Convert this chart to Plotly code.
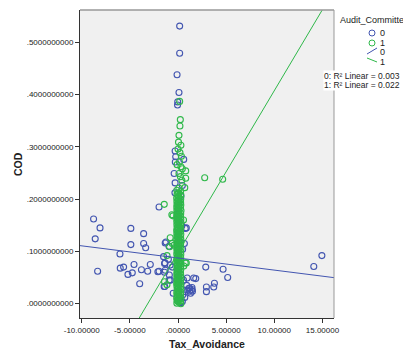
import plotly.graph_objects as go

# ---------------- data ----------------
x_tick_vals = [-10, -5, 0, 5, 10, 15]
x_tick_text = ["-10.00000", "-5.00000", ".00000", "5.00000", "10.00000", "15.00000"]
y_tick_vals = [0.0, 0.1, 0.2, 0.3, 0.4, 0.5]
y_tick_text = [".0000000000", ".1000000000", ".2000000000", ".3000000000", ".4000000000", ".5000000000"]

groups = ["0", "1"]

# Audit_Committee = 0 (blue)
x0 = [0.17, 0.17, -0.10, 0.10, -0.03, -0.05,
      -8.77, -8.10, -8.60, -4.90, -3.57, -4.90, -3.57, -3.36, -1.97, -6.03, -8.35, -6.00, -5.65,
      -4.57, -5.20, -4.75, -3.80, -3.15, -2.88, -1.97, -1.35, -3.98, -1.38, -1.25, -0.94, -0.80,
      0.86, 0.66, 2.88, 4.68, 5.16, 3.78, 3.71, 2.95, 2.95, 1.63, 1.84, 1.20, 1.45, 1.20, 1.50,
      1.00, 1.30, 14.94, 14.10, 0.59, -0.24, -1.40, -1.00, -0.60, -0.90, -0.50, 0.90, 0.70,
      -1.33, -1.40, -2.09, -0.81, -1.44, -0.92, 0.57, 1.10, 0.75, -1.50, -1.33, 0.95, 1.45,
      -0.30, -0.28, -0.40, -0.30, 0.45, -0.32, 0.30, 0.10, 0.05, -0.05, 0.12, 0.40, 0.00,
      0.10, 0.48, 0.05, 0.15, -0.05, 0.10, 0.50, 0.00, 0.45, 0.30, 0.20]
y0 = [0.531, 0.479, 0.438, 0.404, 0.386, 0.380,
      0.162, 0.145, 0.124, 0.144, 0.134, 0.113, 0.115, 0.107, 0.185, 0.095, 0.062, 0.068, 0.070,
      0.075, 0.056, 0.059, 0.065, 0.062, 0.075, 0.062, 0.078, 0.038, 0.033, 0.118, 0.110, 0.045,
      0.145, 0.115, 0.070, 0.066, 0.050, 0.039, 0.032, 0.032, 0.023, 0.049, 0.048, 0.030, 0.027,
      0.024, 0.024, 0.026, 0.020, 0.092, 0.071, 0.276, 0.281, 0.060, 0.085, 0.070, 0.055, 0.020,
      0.035, 0.012, 0.116, 0.077, 0.061, 0.074, 0.033, 0.045, 0.045, 0.029, 0.144, 0.090,
      0.064, 0.049, 0.031,
      0.292, 0.271, 0.249, 0.231, 0.226, 0.212, 0.205, 0.193, 0.184, 0.171, 0.158, 0.149,
      0.137, 0.121, 0.104, 0.093, 0.081, 0.058, 0.046, 0.017, 0.008, 0.004, 0.002]

# Audit_Committee = 1 (green)
x1 = [2.77, 4.64, -1.43, -0.52, -1.14, 0.80, 0.80, 0.70, 0.24, 0.20, 0.17, 0.10, 0.05, 0.30,
      0.00, 0.20, 0.35, 0.15, 0.30, 0.10, 0.25, 0.40, 0.86, -0.40, -0.60, -0.64, 0.57, -0.81,
      -0.88, 0.75, -1.40, -1.15, 0.60, -0.10, 0.45,
      -0.12, -0.10, -0.14, -0.11, -0.13, -0.09, -0.12, -0.14, -0.10, -0.12, -0.13, -0.11, -0.12,
      -0.10, -0.12, -0.14, -0.09, -0.13, -0.11, -0.12, -0.14, -0.10, -0.13, -0.11, -0.12, -0.14,
      -0.10, -0.12, -0.13, -0.11, -0.14, -0.10, -0.12, -0.13, -0.11, -0.12, -0.14, -0.10, -0.12,
      0.09, 0.07, 0.10, 0.06, 0.08, 0.10, 0.07, 0.06, 0.09, 0.08, 0.10, 0.06, 0.07, 0.10, 0.09,
      0.07, 0.08, 0.06, 0.10, 0.09, 0.07, 0.10, 0.08, 0.06, 0.09, 0.07, 0.10, 0.08, 0.07, 0.09,
      0.10, 0.06, 0.08, 0.07, 0.09, 0.10, 0.07, 0.08, 0.09,
      0.29, 0.27, 0.31, 0.26, 0.28, 0.30, 0.27, 0.29, 0.27, 0.31, 0.28, 0.26, 0.29, 0.27, 0.30,
      0.26, 0.28, 0.29, 0.27, 0.31, 0.26, 0.28, 0.30, 0.27, 0.29, 0.26, 0.28, 0.27, 0.30, 0.29,
      0.27, 0.28, 0.31, 0.26, 0.29, 0.27, 0.28, 0.30, 0.27,
      -0.02, 0.00, -0.03, 0.01, -0.01, 0.02, -0.02, 0.00, -0.03, 0.01, -0.01, 0.00, 0.02, -0.02,
      0.01, -0.03, 0.00, -0.01, 0.02, -0.02, 0.01, 0.00, -0.03, 0.02, -0.01, 0.00, 0.01, -0.02,
      0.02, -0.01, 0.00, 0.01, -0.03, 0.02, -0.02, 0.00, 0.01, -0.01]
y1 = [0.241, 0.238, 0.190, 0.168, 0.092, 0.254, 0.240, 0.222, 0.352, 0.340, 0.387, 0.322, 0.309, 0.303,
      0.296, 0.289, 0.282, 0.271, 0.262, 0.249, 0.243, 0.236, 0.078, 0.112, 0.115, 0.170, 0.160, 0.126,
      0.109, 0.078, 0.042, 0.036, 0.072, 0.266, 0.258,
      0.001, 0.006, 0.011, 0.017, 0.022, 0.028, 0.034, 0.039, 0.045, 0.050, 0.056, 0.061, 0.067,
      0.073, 0.078, 0.084, 0.089, 0.095, 0.101, 0.106, 0.112, 0.117, 0.123, 0.129, 0.134, 0.140,
      0.145, 0.151, 0.157, 0.162, 0.168, 0.173, 0.179, 0.185, 0.190, 0.196, 0.202, 0.209, 0.217,
      0.003, 0.009, 0.014, 0.020, 0.025, 0.031, 0.037, 0.042, 0.048, 0.053, 0.059, 0.065, 0.070,
      0.076, 0.081, 0.087, 0.093, 0.098, 0.104, 0.109, 0.115, 0.121, 0.126, 0.132, 0.137, 0.143,
      0.149, 0.154, 0.160, 0.165, 0.171, 0.177, 0.182, 0.188, 0.193, 0.199, 0.205, 0.212, 0.221,
      0.000, 0.005, 0.010, 0.016, 0.021, 0.027, 0.032, 0.038, 0.044, 0.049, 0.055, 0.060, 0.066,
      0.071, 0.077, 0.083, 0.088, 0.094, 0.099, 0.105, 0.111, 0.116, 0.122, 0.127, 0.133, 0.139,
      0.144, 0.150, 0.155, 0.161, 0.166, 0.172, 0.178, 0.183, 0.189, 0.194, 0.200, 0.208, 0.215,
      0.004, 0.008, 0.013, 0.019, 0.024, 0.030, 0.035, 0.041, 0.047, 0.052, 0.058, 0.063, 0.069,
      0.074, 0.080, 0.086, 0.091, 0.097, 0.102, 0.108, 0.113, 0.119, 0.125, 0.130, 0.136, 0.141,
      0.147, 0.153, 0.158, 0.164, 0.169, 0.175, 0.180, 0.186, 0.192, 0.197, 0.203, 0.211]

# fit lines (intercept, slope) and R^2 per group
fit_intercept = [0.0874, 0.0975]
fit_slope = [-0.00232, 0.0310]
r2 = ["0.003", "0.022"]

# ---------------- style ----------------
colors = ["#4255b0", "#2fb84a"]
FONT = "Liberation Sans, Arial, sans-serif"
x_range = [-10.18, 16.2]
y_range = [-0.0274, 0.5618]

fig = go.Figure()
for g, xs, ys in [(0, x0, y0), (1, x1, y1)]:
    fig.add_trace(go.Scatter(
        x=xs, y=ys, mode="markers", name=groups[g],
        marker=dict(symbol="circle-open", size=6, color=colors[g], line=dict(width=1.1)),
        showlegend=False, cliponaxis=True))

for g in range(2):
    lx = [x_range[0], x_range[1]]
    ly = [fit_intercept[g] + fit_slope[g] * v for v in lx]
    fig.add_trace(go.Scatter(x=lx, y=ly, mode="lines",
                             line=dict(color=colors[g], width=1), showlegend=False,
                             hoverinfo="skip"))

axis_common = dict(showgrid=False, zeroline=False, showline=True, linecolor="#333333",
                   linewidth=1, ticks="outside", ticklen=4, tickcolor="#333333",
                   tickfont=dict(family=FONT, size=8, color="#222222"))
fig.update_xaxes(range=x_range, tickvals=x_tick_vals, ticktext=x_tick_text, **axis_common)
fig.update_yaxes(range=y_range, tickvals=y_tick_vals, ticktext=y_tick_text, **axis_common)

shapes = [
    # top and right border of plot area
    dict(type="line", xref="paper", yref="paper", x0=0, x1=1, y0=1, y1=1,
         line=dict(color="#999999", width=1.5)),
    dict(type="line", xref="paper", yref="paper", x0=1, x1=1, y0=0, y1=1,
         line=dict(color="#999999", width=1)),
]

# legend (pixel positions converted to paper coords)
W, H = 403, 350
L, R, T, B = 80, 69, 10, 32
pw, ph = W - L - R, H - T - B


def px(x):
    return (x - L) / pw


def py(y):
    return (H - B - y) / ph


annotations = [
    dict(text="Audit_Committee", x=px(338), y=py(20), xref="paper", yref="paper",
         xanchor="left", yanchor="middle", showarrow=False,
         font=dict(family=FONT, size=9, color="#222222")),
]
for i, yy in enumerate([33, 43]):
    shapes.append(dict(type="circle", xref="paper", yref="paper",
                       x0=px(369), x1=px(375), y0=py(yy + 3), y1=py(yy - 3),
                       line=dict(color=colors[i], width=1)))
    annotations.append(dict(text=groups[i], x=px(378), y=py(yy), xref="paper", yref="paper",
                            xanchor="left", yanchor="middle", showarrow=False,
                            font=dict(family=FONT, size=9, color="#222222")))
line_y = [(54, 48), (58, 62)]
for i, (ya, yb) in enumerate(line_y):
    shapes.append(dict(type="line", xref="paper", yref="paper",
                       x0=px(367), x1=px(377), y0=py(ya), y1=py(yb),
                       line=dict(color=colors[i], width=1)))
    annotations.append(dict(text=groups[i], x=px(378), y=py([52, 62][i]), xref="paper",
                            yref="paper", xanchor="left", yanchor="middle", showarrow=False,
                            font=dict(family=FONT, size=9, color="#222222")))
for i, yy in enumerate([76, 85]):
    annotations.append(dict(text=f"{groups[i]}: R² Linear = {r2[i]}",
                            x=px(401), y=py(yy), xref="paper", yref="paper",
                            xanchor="right", yanchor="middle", showarrow=False,
                            bgcolor="white", borderpad=0,
                            font=dict(family=FONT, size=8.5, color="#222222")))

# axis titles
annotations.append(dict(text="<b>Tax_Avoidance</b>", x=0.5, y=py(344), xref="paper",
                        yref="paper", xanchor="center", yanchor="middle", showarrow=False,
                        font=dict(family=FONT, size=10.5, color="#222222")))
annotations.append(dict(text="<b>COD</b>", x=px(18), y=0.5, xref="paper", yref="paper",
                        xanchor="center", yanchor="middle", showarrow=False, textangle=-90,
                        font=dict(family=FONT, size=10.5, color="#222222")))

fig.update_layout(
    width=W, height=H, margin=dict(l=L, r=R, t=T, b=B),
    paper_bgcolor="white", plot_bgcolor="#f0f0f0",
    shapes=shapes, annotations=annotations, showlegend=False,
    font=dict(family=FONT),
)

fig.write_html("out.html")
